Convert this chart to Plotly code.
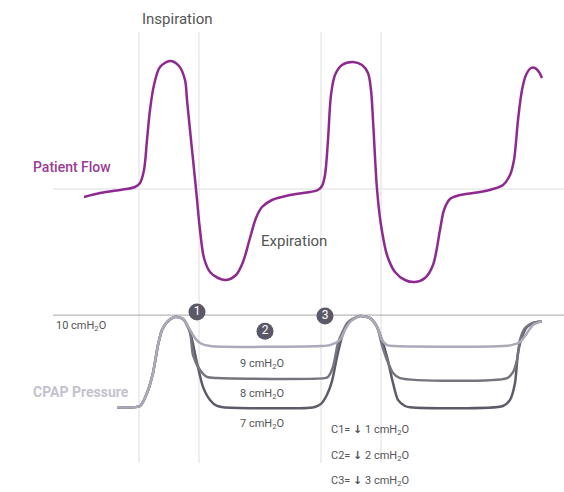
import plotly.graph_objects as go

W, H = 564, 492

# ---------------- data ----------------
# Patient flow (time in chart units, flow in arbitrary units; 0 = no flow)
flow_t = [84, 100, 120, 135, 140, 144, 147, 150, 154, 160, 170, 179, 185, 187, 190, 196,
          200, 204, 210, 218, 226, 236, 243, 250, 256, 262, 272, 290, 310, 318,
          322, 325, 328, 331, 335, 342, 353, 362, 368, 371, 373, 377,
          381, 387, 395, 405, 415, 425, 433, 440, 444, 450, 460, 480, 493,
          503, 510, 514, 518, 522, 526, 531, 535, 539, 542]
flow_v = [-4, -2, -0.5, 1, 3, 9.5, 24.5, 39.5, 52, 61, 64, 61.5, 54.5, 44.5, 29.5, 0,
          -20.5, -34.5, -41.5, -44.5, -45.5, -43, -36.5, -24.5, -14.5, -9, -5.5, -3, -1.5, -0.5,
          1.5, 7, 24.5, 47, 57, 62, 63.5, 62, 58, 49.5, 34.5, 0,
          -18, -33, -41.5, -45.5, -46.5, -44.5, -38, -20.5, -10.5, -5, -3, -1.5, 0,
          2, 7, 14.5, 34.5, 49.5, 57, 60.5, 60.5, 58.5, 55.5]

# CPAP pressure (cmH2O) for the three cases C1, C2, C3
c1_t = [117, 140, 147, 153, 158, 162, 167, 175, 183, 190, 195, 200, 210, 320, 330, 340,
        345, 350, 360, 370, 377, 382, 387, 395, 510, 520, 527, 533, 542]
c1_p = [6.99, 7.03, 7.46, 8.12, 9.04, 9.54, 9.80, 9.97, 9.90, 9.54, 9.27, 9.11, 9.01, 9.01, 9.04, 9.21,
        9.54, 9.80, 10.0, 9.93, 9.64, 9.21, 9.04, 9.01, 9.03, 9.14, 9.44, 9.70, 9.83]

c2_t = [117, 140, 147, 153, 158, 162, 167, 175, 183, 190, 193, 200, 207, 217, 325, 328, 333,
        338, 342, 348, 360, 370, 377, 382, 387, 393, 400, 507, 513, 517, 520, 525, 533, 542]
c2_p = [6.99, 7.03, 7.46, 8.12, 9.04, 9.54, 9.80, 9.97, 9.90, 9.47, 8.71, 8.22, 7.99, 7.95, 7.95, 7.99, 8.32,
        9.11, 9.44, 9.80, 10.0, 9.93, 9.64, 9.04, 8.55, 8.12, 7.95, 7.95, 8.15, 8.55, 9.21, 9.60, 9.77, 9.83]

c3_t = [117, 140, 147, 153, 158, 162, 167, 175, 183, 190, 197, 203, 210, 217, 223, 314, 321,
        327, 332, 337, 342, 348, 360, 370, 377, 382, 387, 393, 398, 405, 410, 503, 510, 515, 518, 522,
        527, 533, 542]
c3_p = [6.99, 7.03, 7.46, 8.12, 9.04, 9.54, 9.80, 9.97, 9.90, 9.47, 8.45, 7.66, 7.23, 7.03, 6.99, 6.99, 7.10,
        7.40, 7.85, 8.65, 9.31, 9.77, 10.0, 9.93, 9.64, 9.21, 8.65, 7.79, 7.23, 7.03, 6.99, 7.03, 7.23, 7.79, 8.78, 9.31,
        9.64, 9.77, 9.83]

phase_times = [139, 199, 321, 381]          # start/end of inspiration phases
ref_pressure = 10.03                        # 10 cmH2O reference line
level_labels = ["9 cmH<sub>2</sub>O", "8 cmH<sub>2</sub>O", "7 cmH<sub>2</sub>O"]
case_labels = ["C1= <b>↓</b> 1 cmH<sub>2</sub>O", "C2= <b>↓</b> 2 cmH<sub>2</sub>O",
               "C3= <b>↓</b> 3 cmH<sub>2</sub>O"]
badge_t = [197, 265, 325]
badge_p = [10.13, 9.50, 10.0]
badge_txt = ["1", "2", "3"]

# ---------------- styling ----------------
FONT = "Roboto, 'DejaVu Sans', sans-serif"
PURPLE = "#8e2a8f"
LIGHT = "#acaab9"
MED = "#77747f"
DARK = "#5e5b69"
GRID = "#e8e8e8"


def px(x, y):
    return x / W, 1 - y / H


fig = go.Figure()

# vertical phase lines
for t in phase_times:
    fig.add_shape(type="line", xref="x", yref="paper", x0=t, x1=t,
                  y0=px(0, 463)[1], y1=px(0, 32)[1], line=dict(color=GRID, width=1.5), layer="below")

# baseline for flow
fig.add_trace(go.Scatter(x=[53, 564], y=[0, 0], mode="lines", line=dict(color=GRID, width=1.5),
                         hoverinfo="skip", showlegend=False))
# reference pressure line
fig.add_trace(go.Scatter(x=[53, 564], y=[ref_pressure, ref_pressure], yaxis="y2", mode="lines",
                         line=dict(color="#b8b8b8", width=1.2), hoverinfo="skip", showlegend=False))

# pressure curves
for t, p, c in [(c3_t, c3_p, DARK), (c2_t, c2_p, MED), (c1_t, c1_p, LIGHT)]:
    fig.add_trace(go.Scatter(x=t, y=p, yaxis="y2", mode="lines",
                             line=dict(color=c, width=2.5, shape="spline", smoothing=0.7),
                             showlegend=False))

# flow curve
fig.add_trace(go.Scatter(x=flow_t, y=flow_v, mode="lines",
                         line=dict(color=PURPLE, width=2.5, shape="spline", smoothing=0.9),
                         showlegend=False))

# badges
fig.add_trace(go.Scatter(x=badge_t, y=badge_p, yaxis="y2", mode="markers+text",
                         marker=dict(size=17, color="#5b5867"), text=badge_txt,
                         textposition="middle center",
                         textfont=dict(color="white", size=12, family=FONT), showlegend=False))

ann = []


def add_text(x, y, text, size, color, xanchor="left", weight=None):
    ax, ay = px(x, y)
    ann.append(dict(x=ax, y=ay, xref="paper", yref="paper", text=text, showarrow=False,
                    xanchor=xanchor, yanchor="middle",
                    font=dict(family=FONT, size=size, color=color,
                              weight=weight if weight else "normal")))


add_text(177, 19, "Inspiration", 15, "#555555", "center")
add_text(259, 241, "Expiration", 15, "#555555", "left")
add_text(31, 167, "Patient Flow", 14, "#9b3b98", "left", 500)
add_text(31, 392, "CPAP Pressure", 14, "#c4c2cf", "left", 700)
add_text(54, 326, "10 cmH<sub>2</sub>O", 11, "#555555", "left")
for lbl, y in zip(level_labels, [364, 394, 424]):
    add_text(262, y, lbl, 11, "#555555", "center")
for lbl, y in zip(case_labels, [430, 456, 481]):
    add_text(329, y, lbl, 11, "#555555", "left")

fig.update_layout(
    width=W, height=H, margin=dict(l=0, r=0, t=0, b=0),
    paper_bgcolor="white", plot_bgcolor="white",
    xaxis=dict(range=[0, W], visible=False, fixedrange=True),
    yaxis=dict(range=[-151.5, 94.5], visible=False, fixedrange=True),
    yaxis2=dict(range=[10 - 176 / 30.3, 10 + 316 / 30.3], overlaying="y", visible=False, fixedrange=True),
    annotations=ann, showlegend=False,
)

fig.write_html("out.html", config={"displayModeBar": False},
               post_script="document.body.style.margin='0';document.body.style.overflow='hidden';")
